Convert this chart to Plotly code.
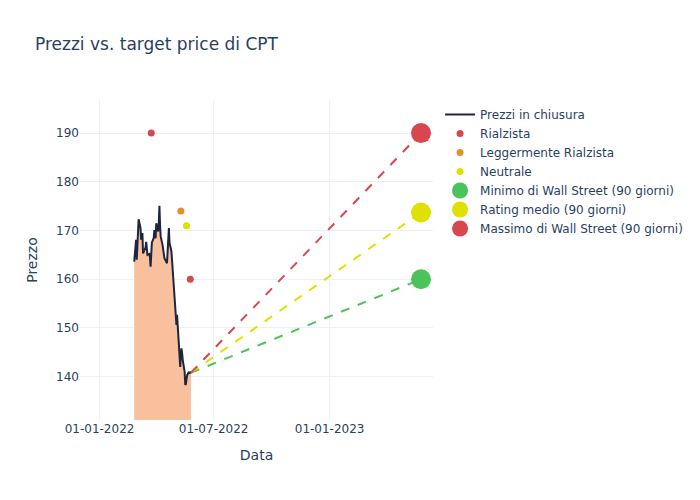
import plotly.graph_objects as go

# --- Data ---
dates = [
    "2022-02-25", "2022-02-28", "2022-03-01", "2022-03-02", "2022-03-03", "2022-03-04",
    "2022-03-07", "2022-03-08", "2022-03-09", "2022-03-10", "2022-03-11",
    "2022-03-14", "2022-03-15", "2022-03-16", "2022-03-17", "2022-03-18",
    "2022-03-21", "2022-03-22", "2022-03-23", "2022-03-24", "2022-03-25",
    "2022-03-28", "2022-03-29", "2022-03-30", "2022-03-31", "2022-04-01",
    "2022-04-04", "2022-04-05", "2022-04-06", "2022-04-07", "2022-04-08",
    "2022-04-11", "2022-04-12", "2022-04-13", "2022-04-14",
    "2022-04-18", "2022-04-19", "2022-04-20", "2022-04-21", "2022-04-22",
    "2022-04-25", "2022-04-26", "2022-04-27", "2022-04-28", "2022-04-29",
    "2022-05-02", "2022-05-03", "2022-05-04", "2022-05-05", "2022-05-06",
    "2022-05-09", "2022-05-10", "2022-05-11", "2022-05-12", "2022-05-13",
    "2022-05-16", "2022-05-17", "2022-05-18", "2022-05-19", "2022-05-20",
    "2022-05-23", "2022-05-24", "2022-05-25", "2022-05-26",
]
prices = [
    163.6, 168.1, 164.0, 167.5, 170.5, 172.3,
    170.5, 168.1, 168.8, 169.5, 165.3,
    166.0, 166.5, 167.7, 166.0, 165.0,
    165.2, 164.5, 162.6, 165.0, 167.5,
    168.5, 170.1, 169.5, 168.4, 171.5,
    169.8, 171.5, 175.1, 171.0, 168.8,
    167.0, 165.7, 165.0, 164.3,
    163.3, 166.0, 168.5, 170.5, 167.5,
    165.7, 164.0, 161.9, 162.0, 157.8,
    152.7, 150.6, 152.7, 150.0, 147.5,
    142.0, 144.5, 145.8, 144.8, 143.4,
    141.0, 138.3, 138.5, 139.5, 140.3,
    141.0, 140.6, 141.0, 140.8,
]

rialzista_dates = ["2022-03-24", "2022-05-25"]
rialzista_vals = [190, 160]
legg_rialzista_dates = ["2022-05-10"]
legg_rialzista_vals = [174]
neutrale_dates = ["2022-05-19"]
neutrale_vals = [171]

target_date = "2023-05-26"
target_min = 160
target_avg = 173.7
target_max = 190

# --- Styles ---
c_red = "#d8474f"
c_orange = "#e0922a"
c_yellow = "#e0e000"
c_green = "#4cc35a"
c_line = "#1c2541"
c_fill = "#f8c09c"

fig = go.Figure()

fig.add_trace(go.Scatter(
    x=dates, y=prices, mode="lines", fill="tozeroy",
    fillcolor=c_fill, line=dict(width=0, color=c_fill),
    showlegend=False, hoverinfo="skip",
))
fig.add_trace(go.Scatter(
    x=dates, y=prices, mode="lines", name="Prezzi in chiusura",
    line=dict(color=c_line, width=2),
))

fig.add_trace(go.Scatter(x=rialzista_dates, y=rialzista_vals, mode="markers",
                         name="Rialzista", marker=dict(color=c_red, size=7)))
fig.add_trace(go.Scatter(x=legg_rialzista_dates, y=legg_rialzista_vals, mode="markers",
                         name="Leggermente Rialzista", marker=dict(color=c_orange, size=7)))
fig.add_trace(go.Scatter(x=neutrale_dates, y=neutrale_vals, mode="markers",
                         name="Neutrale", marker=dict(color=c_yellow, size=7)))

last_date = dates[-1]
last_price = prices[-1]
targets = [
    (target_min, c_green, "Minimo di Wall Street (90 giorni)"),
    (target_avg, c_yellow, "Rating medio (90 giorni)"),
    (target_max, c_red, "Massimo di Wall Street (90 giorni)"),
]
for val, col, name in targets:
    fig.add_trace(go.Scatter(
        x=[last_date, target_date], y=[last_price, val], mode="lines",
        line=dict(color=col, width=2, dash="dash"), showlegend=False, hoverinfo="skip",
    ))
for val, col, name in targets:
    fig.add_trace(go.Scatter(
        x=[target_date], y=[val], mode="markers", name=name,
        marker=dict(color=col, size=20),
    ))

fig.update_layout(
    template="plotly_white",
    width=700, height=500,
    font=dict(family="DejaVu Sans"),
    title=dict(text="Prezzi vs. target price di CPT"),
    xaxis=dict(title=dict(text="Data"), tickformat="%d-%m-%Y",
               range=["2021-12-01", "2023-06-14"]),
    yaxis=dict(title=dict(text="Prezzo"), range=[131.1, 196.8]),
)

fig.write_html("out.html", config={"displayModeBar": False},
               post_script="document.body.style.margin='0';")
